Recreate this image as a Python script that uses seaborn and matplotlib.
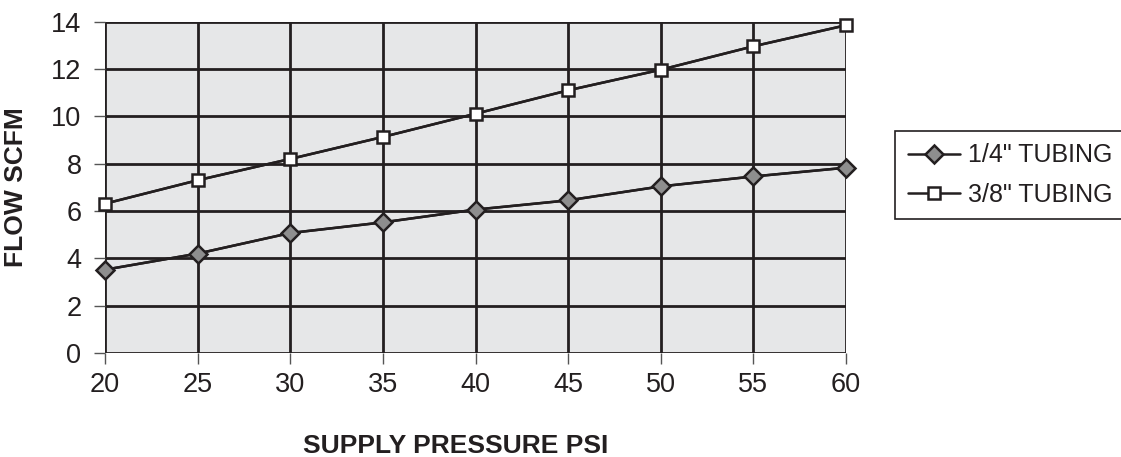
import matplotlib
matplotlib.use("Agg")
import matplotlib.pyplot as plt
import seaborn as sns
import pandas as pd

pressure = [20, 25, 30, 35, 40, 45, 50, 55, 60]
flow_quarter = [3.52, 4.20, 5.07, 5.52, 6.06, 6.45, 7.04, 7.46, 7.83]
flow_three_eighths = [6.31, 7.30, 8.20, 9.13, 10.11, 11.10, 11.97, 12.96, 13.85]
series_names = ['1/4" TUBING', '3/8" TUBING']
x_ticks = [20, 25, 30, 35, 40, 45, 50, 55, 60]
y_ticks = [0, 2, 4, 6, 8, 10, 12, 14]

sns.set_theme(style="white")
plt.rcParams['font.family'] = ['Liberation Sans', 'DejaVu Sans']

df = pd.DataFrame({
    "pressure": pressure * 2,
    "flow": flow_quarter + flow_three_eighths,
    "series": [series_names[0]] * len(pressure) + [series_names[1]] * len(pressure),
})

dark = "#231f20"
fig = plt.figure(figsize=(11.21, 4.57), dpi=100)
ax = fig.add_axes([105 / 1121, 1 - 353 / 457, (846 - 105) / 1121, (353 - 21.7) / 457])
ax.set_facecolor("#e6e7e8")

sns.lineplot(data=df, x="pressure", y="flow", hue="series",
             palette={series_names[0]: dark, series_names[1]: dark},
             ax=ax, legend=False, linewidth=1.8, zorder=3)

sub1 = df[df.series == series_names[0]]
sub2 = df[df.series == series_names[1]]
h1, = ax.plot(sub1.pressure, sub1.flow, color=dark, lw=1.8, marker="D", ms=9,
              mfc="#8e8e8e", mec=dark, mew=1.8, zorder=4, label=series_names[0],
              clip_on=False)
h2, = ax.plot(sub2.pressure, sub2.flow, color=dark, lw=1.8, marker="s", ms=9,
              mfc="white", mec=dark, mew=1.8, zorder=4, label=series_names[1],
              clip_on=False)

ax.set_xlim(20, 60)
ax.set_ylim(0, 14)
ax.set_xticks(x_ticks)
ax.set_yticks(y_ticks)
ax.grid(True, color=dark, linewidth=2)
ax.set_axisbelow(True)
for s in ax.spines.values():
    s.set_visible(False)
ax.tick_params(axis="both", which="both", length=8, width=1, color="#555555",
               labelsize=19.5, labelcolor=dark, direction="out",
               left=True, bottom=True)
ax.tick_params(axis="y", pad=9)
ax.tick_params(axis="x", pad=6)
ax.set_xlabel("")
ax.set_ylabel("")

fig.text(456 / 1121, 1 - 446 / 457, "SUPPLY PRESSURE PSI", fontsize=19,
         fontweight="bold", color=dark, ha="center", va="center")
fig.text(16 / 1121, 1 - 187 / 457, "FLOW SCFM", fontsize=19, fontweight="bold",
         color=dark, ha="center", va="center", rotation=90)

leg = fig.legend(handles=[h1, h2], labels=series_names, loc="upper left",
                 bbox_to_anchor=(895 / 1121, 1 - 131 / 457), fontsize=18,
                 frameon=True, fancybox=False, edgecolor=dark, framealpha=1,
                 handlelength=2.1, handletextpad=0.3, borderpad=0.5,
                 labelspacing=0.6, borderaxespad=0)
leg.get_frame().set_linewidth(1.2)
for t in leg.get_texts():
    t.set_color(dark)

fig.savefig("out.png", dpi=100)
